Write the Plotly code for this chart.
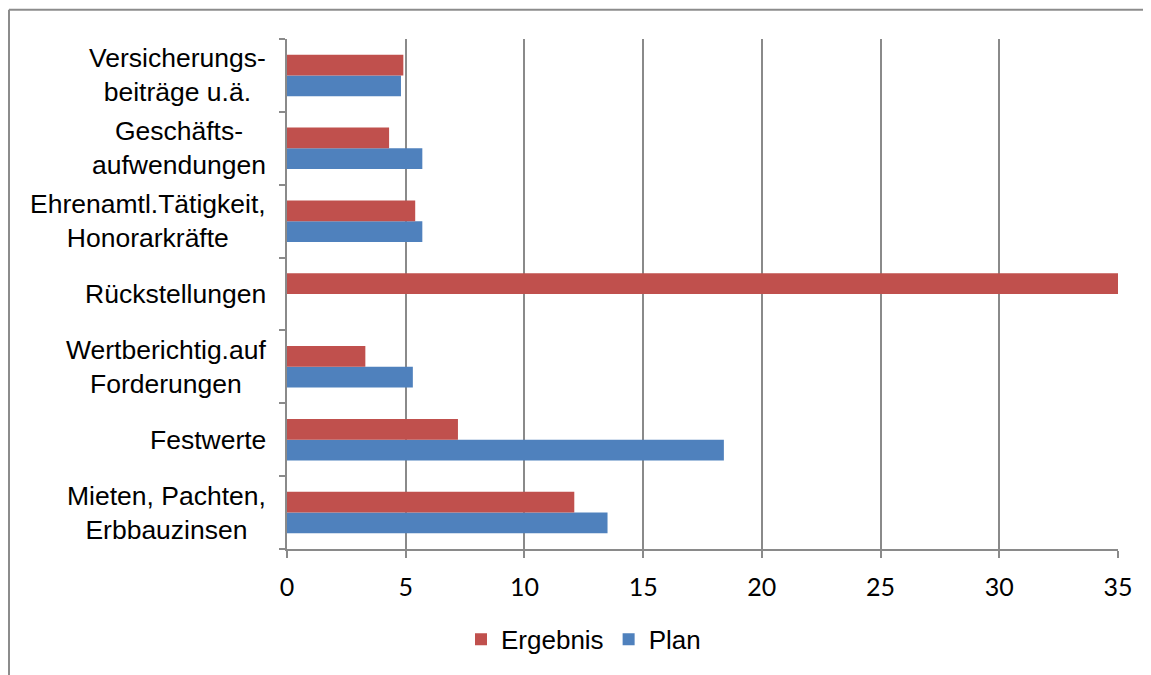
import plotly.graph_objects as go

categories = [
    "Mieten, Pachten,<br>Erbbauzinsen",
    "Festwerte",
    "Wertberichtig.auf<br>Forderungen",
    "Rückstellungen",
    "Ehrenamtl.Tätigkeit,<br>Honorarkräfte",
    "Geschäfts-<br>aufwendungen",
    "Versicherungs-<br>beiträge u.ä.",
]
ergebnis = [12.1, 7.2, 3.3, 35.0, 5.4, 4.3, 4.9]
plan = [13.5, 18.4, 5.3, None, 5.7, 5.7, 4.8]
x_ticks = [0, 5, 10, 15, 20, 25, 30, 35]

# page has an 8px body margin: figure starts at (8, 8) of the window
OFF = 8
WIN_W, WIN_H = 1151, 675
PL, PR, PT, PB = 287, 1118, 39, 553          # plot area in window pixels
W, H = WIN_W - OFF, WIN_H - OFF
pw, ph = PR - PL, PB - PT

def px_x(p):
    return (p - PL) / pw

def px_y(p):
    return (PB - p) / ph

grid = "#8a8a8a"

fig = go.Figure()
fig.add_trace(go.Bar(y=categories, x=plan, name="Plan", orientation="h",
                     marker=dict(color="#4F81BD", line=dict(width=0)), legendrank=2))
fig.add_trace(go.Bar(y=categories, x=ergebnis, name="Ergebnis", orientation="h",
                     marker=dict(color="#C0504D", line=dict(width=0)), legendrank=1))

for c in categories:
    fig.add_annotation(x=px_x(268), xref="paper", y=c, yref="y", text=c,
                       showarrow=False, xanchor="right", yanchor="middle", align="center",
                       font=dict(family="Liberation Sans, Arial", size=26.5, color="#000000"))

# outer frame (left and top edges visible)
fig.add_shape(type="line", xref="paper", yref="paper",
              x0=px_x(9), x1=px_x(9), y0=px_y(680), y1=px_y(9.5),
              line=dict(color="#8c8c8c", width=2))
fig.add_shape(type="line", xref="paper", yref="paper",
              x0=px_x(9), x1=px_x(1160), y0=px_y(9.5), y1=px_y(9.5),
              line=dict(color="#8c8c8c", width=2))

fig.update_layout(
    width=W, height=H,
    margin=dict(l=PL - OFF, r=WIN_W - PR, t=PT - OFF, b=WIN_H - PB),
    paper_bgcolor="white", plot_bgcolor="white",
    barmode="group", bargap=0.43, bargroupgap=0,
    showlegend=True,
    legend=dict(orientation="h", x=px_x(461), xanchor="left", y=px_y(644), yanchor="middle",
                font=dict(family="Liberation Sans, Arial", size=26, color="#000000"),
                bgcolor="rgba(0,0,0,0)"),
    xaxis=dict(range=[0, 35], tickvals=x_ticks, showgrid=True, gridcolor=grid, gridwidth=1.5,
               zeroline=False, showline=True, linecolor=grid, linewidth=1.5,
               ticks="outside", ticklen=7, tickcolor=grid, tickwidth=1.5,
               ticklabelstandoff=8,
               tickfont=dict(family="Lato, Carlito, Calibri", size=25, color="#000000")),
    yaxis=dict(type="category", categoryorder="array", categoryarray=categories,
               showticklabels=False, showgrid=False, zeroline=False,
               showline=True, linecolor=grid, linewidth=1.5,
               ticks="outside", tickson="boundaries", ticklen=6, tickcolor=grid, tickwidth=1.5),
)

fig.write_html("out.html")
